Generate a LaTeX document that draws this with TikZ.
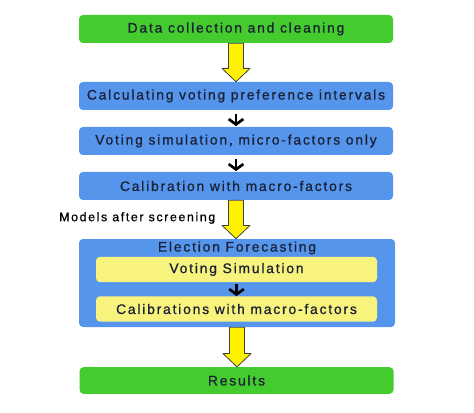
\documentclass[tikz,border=0pt]{standalone}
\usepackage{fontspec}
\setmainfont{Liberation Sans}
\usetikzlibrary{arrows.meta,calc}
\definecolor{boxgreen}{HTML}{44CC2E}
\definecolor{boxblue}{HTML}{5596EC}
\definecolor{boxyellow}{HTML}{F8F37C}
\definecolor{txtdark}{HTML}{1A2036}
\newcommand\fatarrow[2]{%
  \path let \p1=(#1.south), \p2=(#2.north) in
    [fatarr] (\x1-5.6pt,\y1) -- (\x1+5.6pt,\y1) -- (\x1+5.6pt,\y2+10pt)
    -- (\x1+10.5pt,\y2+10pt) -- (\x1,\y2) -- (\x1-10.5pt,\y2+10pt)
    -- (\x1-5.6pt,\y2+10pt) -- cycle;}

\begin{document}
\begin{tikzpicture}[x=0.75pt,y=-0.75pt,
  font=\fontsize{10.4}{12}\selectfont\addfontfeature{LetterSpace=13,FakeBold=0.8},
  stepbox/.style={rounded corners=3pt,inner sep=0pt,text=txtdark,
    minimum width=235.5pt,minimum height=21pt},
  greenbox/.style={stepbox,fill=boxgreen},
  bluebox/.style={stepbox,fill=boxblue},
  yellowbox/.style={stepbox,fill=boxyellow,minimum width=210.75pt,minimum height=19pt},
  fatarr/.style={fill=yellow,draw=black!75,line width=0.6pt,line join=round},
  thinarr/.style={-{Straight Barb[length=4pt,width=11pt]},line width=2pt}]
\useasboundingbox (0,0) rectangle (474,413);
       \node [greenbox] at (236,29) (data) {Data collection and cleaning};
          \node [bluebox] at (236,96) (calc) {Calculating voting preference intervals};
             \node [bluebox] at (236,141) (vsim) {Voting simulation, micro-factors only};
              \node [bluebox] at (236,186) (calib) {Calibration with macro-factors};
               \node [bluebox,minimum width=237pt,minimum height=66pt] at (237,283) (fore) {};
                \node [text=txtdark] at (237,248) (fore title) {Election Forecasting};
                 \node [yellowbox] at (236.5,269.5) (ysim) {Voting Simulation};
                  \node [yellowbox] at (236.5,309) (ycal) {Calibrations with macro-factors};
                   \node [greenbox,minimum height=20pt] at (236.5,380.5) (res) {Results};
%
\node [anchor=east,font=\fontsize{9.3}{11}\selectfont\addfontfeature{LetterSpace=13,FakeBold=0.8}] at (220,218) (screen) {Models after screening};
%
\fatarrow{data}{calc}
\fatarrow{calib}{fore}
\fatarrow{fore}{res}
\path[thinarr] ([yshift=-3pt]calc.south) edge ([yshift=0.5pt]vsim.north);
\path[thinarr] ([yshift=-3pt]vsim.south) edge ([yshift=0.5pt]calib.north);
\path[thinarr] ([yshift=-1.5pt]ysim.south) edge ([yshift=0pt]ycal.north);

\end{tikzpicture}
\end{document}
